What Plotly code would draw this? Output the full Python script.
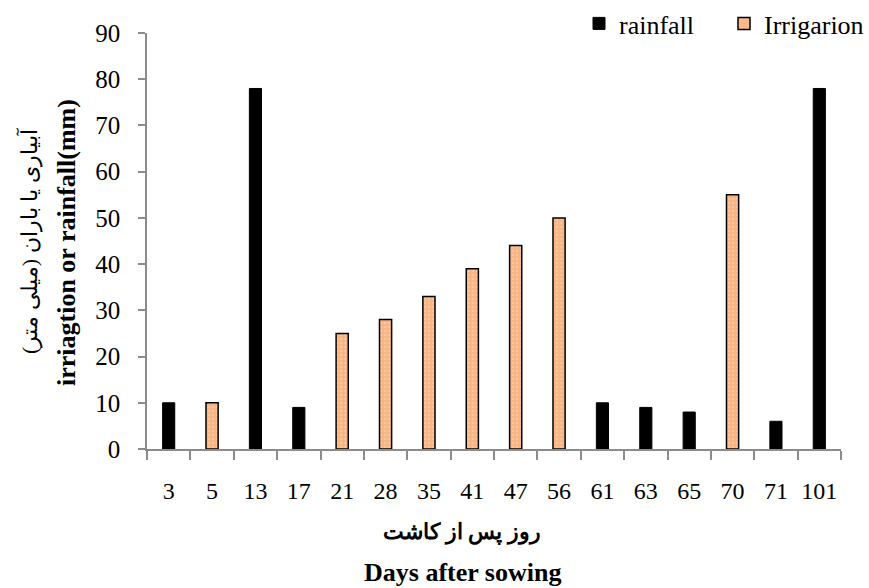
import plotly.graph_objects as go

# Days after sowing (categorical axis)
days = ["3", "5", "13", "17", "21", "28", "35", "41", "47", "56", "61", "63", "65", "70", "71", "101"]
# Rainfall events (mm); None where no rain fell
rainfall = [10, None, 78, 9, None, None, None, None, None, None, 10, 9, 8, None, 6, 78]
# Irrigation events (mm); None where no irrigation was applied
irrigation = [None, 10, None, None, 25, 28, 33, 39, 44, 50, None, None, None, 55, None, None]

serif = "Liberation Serif, Times New Roman, serif"
axis_grey = "#8c8c8c"

W, H = 869, 588
L, R, T, B = 147, 28, 33, 139
pw, ph = W - L - R, H - T - B


def px_x(px):
    return (px - L) / pw


def px_y(py):
    return (H - B - py) / ph


fig = go.Figure()
fig.add_trace(go.Bar(
    x=days, y=rainfall, name="rainfall", width=0.28,
    marker=dict(color="black", line=dict(color="black", width=1)),
))
fig.add_trace(go.Bar(
    x=days, y=irrigation, name="Irrigarion", width=0.28,
    marker=dict(
        color="#f7b584",
        line=dict(color="black", width=1.5),
        pattern=dict(shape=".", fgcolor="#fbd3b3", size=4, solidity=0.3),
    ),
))

fig.update_layout(
    width=W, height=H,
    margin=dict(l=L, r=R, t=T, b=B, autoexpand=False),
    paper_bgcolor="white", plot_bgcolor="white",
    barmode="overlay",
    font=dict(family=serif, size=24, color="black"),
    legend=dict(
        orientation="h", xref="container", yref="container",
        x=1.0, xanchor="right", y=1.0, yanchor="top",
        font=dict(family=serif, size=26), itemwidth=30,
        entrywidth=100, entrywidthmode="pixels",
        bgcolor="rgba(0,0,0,0)",
    ),
    showlegend=True,
)

fig.update_xaxes(
    type="category", tickson="boundaries", ticks="outside", ticklen=9,
    tickcolor=axis_grey, tickwidth=1.5, tickangle=0,
    showline=True, linecolor=axis_grey, linewidth=1.5,
    showgrid=False, ticklabelstandoff=19,
    tickfont=dict(family=serif, size=24),
)
fig.update_yaxes(
    range=[0, 90], dtick=10, ticks="outside", ticklen=7,
    tickcolor=axis_grey, tickwidth=1.5,
    showline=True, linecolor=axis_grey, linewidth=1.5,
    showgrid=False, zeroline=False, ticklabelstandoff=13,
    tickfont=dict(family=serif, size=25),
)

# Axis titles (Persian and English lines)
titles = [
    dict(text="<b>روز پس از کاشت</b>", x=px_x(462), y=px_y(532), angle=0, size=22),
    dict(text="<b>Days after sowing</b>", x=px_x(462), y=px_y(572), angle=0, size=26),
    dict(text="آبیاری یا باران (میلی متر)", x=px_x(29), y=px_y(241), angle=-90, size=22),
    dict(text="<b>irriagtion or rainfall(mm)</b>", x=px_x(66), y=px_y(243), angle=-90, size=26),
]
for t in titles:
    fig.add_annotation(
        text=t["text"], xref="paper", yref="paper", x=t["x"], y=t["y"],
        xanchor="center", yanchor="middle", textangle=t["angle"],
        showarrow=False, font=dict(family=serif, size=t["size"], color="black"),
    )

fig.write_html("out.html")
